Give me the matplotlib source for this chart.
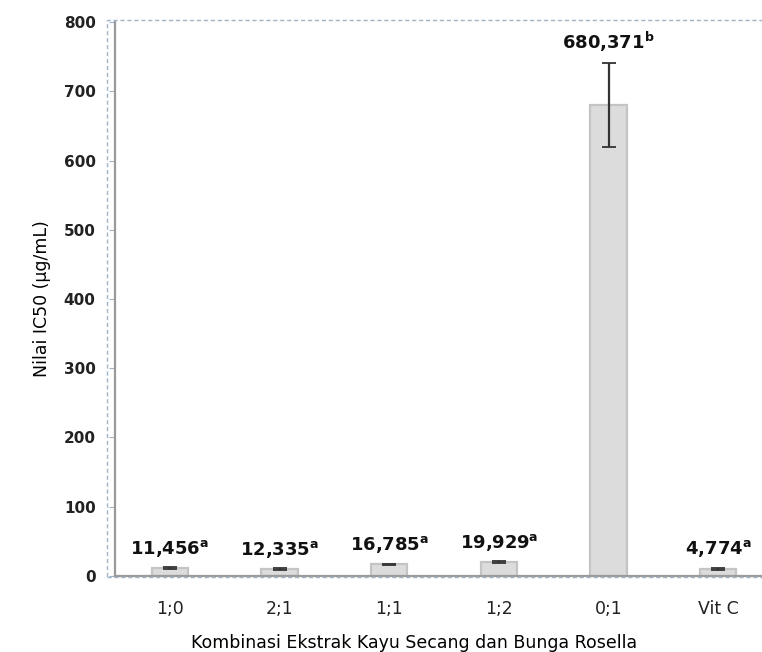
import numpy as np
import matplotlib
matplotlib.use('Agg')
import matplotlib.pyplot as plt
from matplotlib.patches import Rectangle

# data
categories = ['1;0', '2;1', '1;1', '1;2', '0;1', 'Vit C']
ic50 = [11.456, 12.335, 16.785, 19.929, 680.371, 4.774]
# bar heights as drawn in the source (Vit C bar is drawn taller than its label)
bar_height = [11.456, 10.0, 16.785, 19.929, 680.371, 10.5]
sd = [0.9, 1.0, 1.0, 1.5, 61.0, 1.5]
letters = ['a', 'a', 'a', 'a', 'b', 'a']
labels = ['11,456', '12,335', '16,785', '19,929', '680,371', '4,774']

plt.rcParams['mathtext.fontset'] = 'dejavusans'

fig = plt.figure(figsize=(7.62, 6.52), dpi=100)
ax = fig.add_axes([0.151, 0.1166, 0.8635, 0.8496])

x = np.arange(len(categories))
ax.bar(x, bar_height, width=0.33, color='#dcdcdc', edgecolor='#c4c4c4', linewidth=1.6,
       yerr=sd, error_kw=dict(ecolor='#333333', elinewidth=1.6, capsize=5, capthick=1.3))

for xi, v, e, lab, let in zip(x, bar_height, sd, labels, letters):
    num = lab.replace(',', '{,}')
    ax.annotate(r'$\mathbf{' + num + r'}^{\mathbf{' + let + r'}}$',
                (xi, v + e), xytext=(0, 6), textcoords='offset points',
                ha='center', va='bottom', fontsize=13, color='#111111')

ax.set_xlim(-0.5, len(categories) - 0.5)
ax.set_ylim(0, 800)
ax.set_yticks(range(0, 801, 100))
ax.set_xticks(x)
ax.set_xticklabels(categories, fontsize=12.5, color='#222222')
ax.tick_params(axis='y', labelsize=11, length=4, color='#a0b4c8', pad=10)
ax.tick_params(axis='x', length=0, pad=17)
for t in ax.get_yticklabels():
    t.set_fontweight('bold')
    t.set_color('#222222')

ax.spines['top'].set_visible(False)
ax.spines['right'].set_visible(False)
ax.spines['left'].set_color('#9a9a9a')
ax.spines['left'].set_linewidth(1.6)
ax.spines['bottom'].set_color('#9a9a9a')
ax.spines['bottom'].set_linewidth(1.6)

ax.set_ylabel('Nilai IC50 (µg/mL)', fontsize=12.5)
ax.yaxis.set_label_coords(-0.098, 0.5)
ax.set_xlabel('Kombinasi Ekstrak Kayu Secang dan Bunga Rosella', fontsize=12.5)
ax.xaxis.set_label_coords(0.455, -0.105)

# dashed chart-area frame (runs off the right edge like the source)
fig.add_artist(Rectangle((0.1404, 0.1150), 0.95, 0.855, transform=fig.transFigure,
                         fill=False, edgecolor='#a0b4c8', linestyle=(0, (3, 2)), linewidth=1))

fig.savefig('out.png', dpi=100)
